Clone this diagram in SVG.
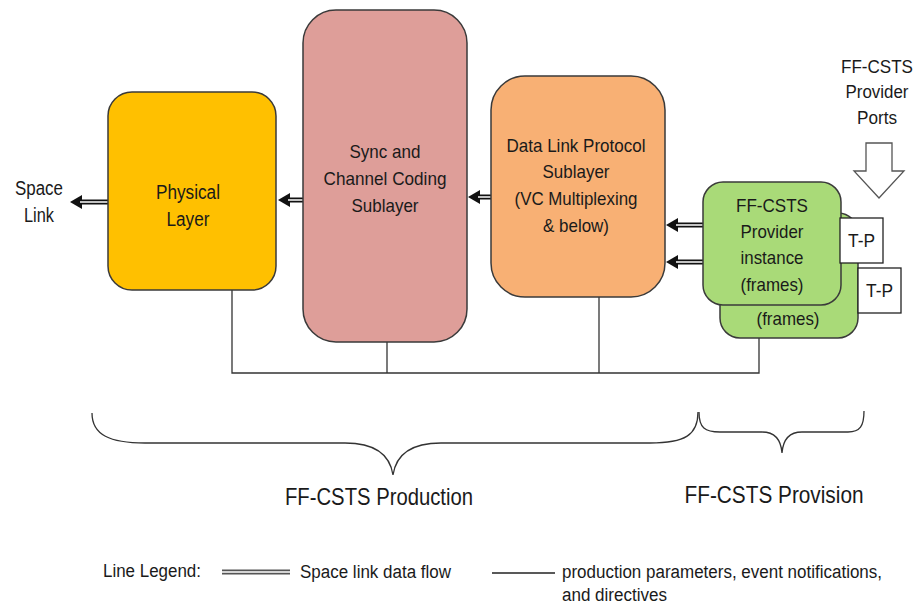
<svg xmlns="http://www.w3.org/2000/svg" width="917" height="605" viewBox="0 0 917 605">
<defs>
<style>
text{font-family:"Liberation Sans",Arial,sans-serif;fill:#1a1a1a;}
.t{font-size:19px;text-anchor:middle;}
.tp{font-size:18px;text-anchor:middle;}
.tl{font-size:20px;text-anchor:middle;}
.box{stroke:#3a3a3a;stroke-width:1.5;}
.dbl{stroke:#111;stroke-width:5;fill:none;}
.dbli{stroke:#fff;stroke-width:1.5;fill:none;}
.ctl{stroke:#333;stroke-width:1.3;fill:none;}
.brace{stroke:#333;stroke-width:1.3;fill:none;}
.big{font-size:24px;text-anchor:middle;}
.leg{font-size:18px;}
</style>
<marker id="ah" markerUnits="userSpaceOnUse" markerWidth="13" markerHeight="14" refX="4" refY="7" orient="auto">
<path d="M0,0 L12,7 L0,14 z" fill="#111"/>
</marker>
</defs>
<rect width="917" height="605" fill="#fff"/>

<g id="connectors">
<path class="ctl" d="M232,290 V373 H759 V338"/>
<path class="ctl" d="M387,342 V373"/>
<path class="ctl" d="M599,297 V373"/>
<line class="dbl" x1="108" y1="202" x2="78" y2="202" marker-end="url(#ah)"/>
<line class="dbli" x1="108" y1="202" x2="80" y2="202"/>
<line class="dbl" x1="303" y1="200" x2="286" y2="200" marker-end="url(#ah)"/>
<line class="dbli" x1="303" y1="200" x2="288" y2="200"/>
<line class="dbl" x1="491" y1="197" x2="476" y2="197" marker-end="url(#ah)"/>
<line class="dbli" x1="491" y1="197" x2="478" y2="197"/>
<line class="dbl" x1="703" y1="225" x2="674" y2="225" marker-end="url(#ah)"/>
<line class="dbli" x1="703" y1="225" x2="676" y2="225"/>
<line class="dbl" x1="703" y1="262" x2="674" y2="262" marker-end="url(#ah)"/>
<line class="dbli" x1="703" y1="262" x2="676" y2="262"/>
</g>

<g id="space-link">
<text class="tl" x="39" y="195" textLength="48" lengthAdjust="spacingAndGlyphs">Space</text>
<text class="tl" x="39" y="222" textLength="30" lengthAdjust="spacingAndGlyphs">Link</text>
</g>

<g id="physical">
<rect class="box" x="108" y="92" width="168" height="198" rx="24" fill="#FFC000"/>
<text class="tl" x="188" y="199" textLength="64" lengthAdjust="spacingAndGlyphs">Physical</text>
<text class="tl" x="188" y="226" textLength="43" lengthAdjust="spacingAndGlyphs">Layer</text>
</g>

<g id="sync">
<rect class="box" x="303" y="10" width="164" height="332" rx="33" fill="#DE9E99"/>
<text class="t" x="385" y="158" textLength="71" lengthAdjust="spacingAndGlyphs">Sync and</text>
<text class="t" x="385" y="185" textLength="123" lengthAdjust="spacingAndGlyphs">Channel Coding</text>
<text class="t" x="385" y="212" textLength="67" lengthAdjust="spacingAndGlyphs">Sublayer</text>
</g>

<g id="dlp">
<rect class="box" x="491" y="76" width="174" height="221" rx="34" fill="#F8B074"/>
<text class="t" x="576" y="152" textLength="139" lengthAdjust="spacingAndGlyphs">Data Link Protocol</text>
<text class="t" x="576" y="178" textLength="67" lengthAdjust="spacingAndGlyphs">Sublayer</text>
<text class="t" x="576" y="205" textLength="123" lengthAdjust="spacingAndGlyphs">(VC Multiplexing</text>
<text class="t" x="576" y="232" textLength="66" lengthAdjust="spacingAndGlyphs">&amp; below)</text>
</g>

<g id="provider-back">
<rect class="box" x="720" y="213" width="138" height="125" rx="20" fill="#A9DA78"/>
<text class="t" x="788" y="325" textLength="63" lengthAdjust="spacingAndGlyphs">(frames)</text>
</g>

<g id="tp2">
<rect x="858" y="268" width="43" height="45" fill="#fff" stroke="#222" stroke-width="1.3"/>
<text class="t" x="879.5" y="297" textLength="27" lengthAdjust="spacingAndGlyphs">T-P</text>
</g>

<g id="provider-front">
<rect class="box" x="703" y="182" width="138" height="123" rx="20" fill="#A9DA78"/>
<text class="t" x="772" y="212" textLength="72" lengthAdjust="spacingAndGlyphs">FF-CSTS</text>
<text class="t" x="772" y="238" textLength="63" lengthAdjust="spacingAndGlyphs">Provider</text>
<text class="t" x="772" y="264" textLength="63" lengthAdjust="spacingAndGlyphs">instance</text>
<text class="t" x="772" y="291" textLength="63" lengthAdjust="spacingAndGlyphs">(frames)</text>
</g>

<g id="tp1">
<rect x="840" y="218" width="43" height="45" fill="#fff" stroke="#222" stroke-width="1.3"/>
<text class="t" x="861.5" y="247" textLength="27" lengthAdjust="spacingAndGlyphs">T-P</text>
</g>

<g id="ports">
<text class="tp" x="877" y="73" textLength="72" lengthAdjust="spacingAndGlyphs">FF-CSTS</text>
<text class="tp" x="877" y="98" textLength="63" lengthAdjust="spacingAndGlyphs">Provider</text>
<text class="tp" x="877" y="124" textLength="40" lengthAdjust="spacingAndGlyphs">Ports</text>
<path d="M866,143 H892 V171 H904 L879,198 L854,171 H866 Z" fill="#fff" stroke="#555" stroke-width="1.3"/>
</g>

<g id="production">
<path class="brace" d="M92,413 C92,435 110,443 145,443 L345,443 C375,443 390,455 393,475 C396,455 411,443 441,443 L650,443 C685,443 698,435 698,412"/>
<text class="big" x="379" y="505" textLength="188" lengthAdjust="spacingAndGlyphs">FF-CSTS Production</text>
</g>

<g id="provision">
<path class="brace" d="M699,412 C699,428 705,432 720,432 L762,432 C775,432 781,440 782,453 C783,440 789,432 802,432 L848,432 C860,432 864,426 864,411"/>
<text class="big" x="774" y="503" textLength="179" lengthAdjust="spacingAndGlyphs">FF-CSTS Provision</text>
</g>

<g id="legend">
<text class="leg" x="103" y="577" textLength="98" lengthAdjust="spacingAndGlyphs">Line Legend:</text>
<line x1="222" y1="572" x2="290" y2="572" stroke="#555" stroke-width="5"/>
<line x1="222" y1="572" x2="290" y2="572" stroke="#fff" stroke-width="1.5"/>
<text class="leg" x="300" y="578" textLength="151" lengthAdjust="spacingAndGlyphs">Space link data flow</text>
<line x1="492" y1="573" x2="555" y2="573" stroke="#222" stroke-width="1.3"/>
<text class="leg" x="562" y="578" textLength="320" lengthAdjust="spacingAndGlyphs">production parameters, event notifications,</text>
<text class="leg" x="562" y="601" textLength="105" lengthAdjust="spacingAndGlyphs">and directives</text>
</g>
</svg>
